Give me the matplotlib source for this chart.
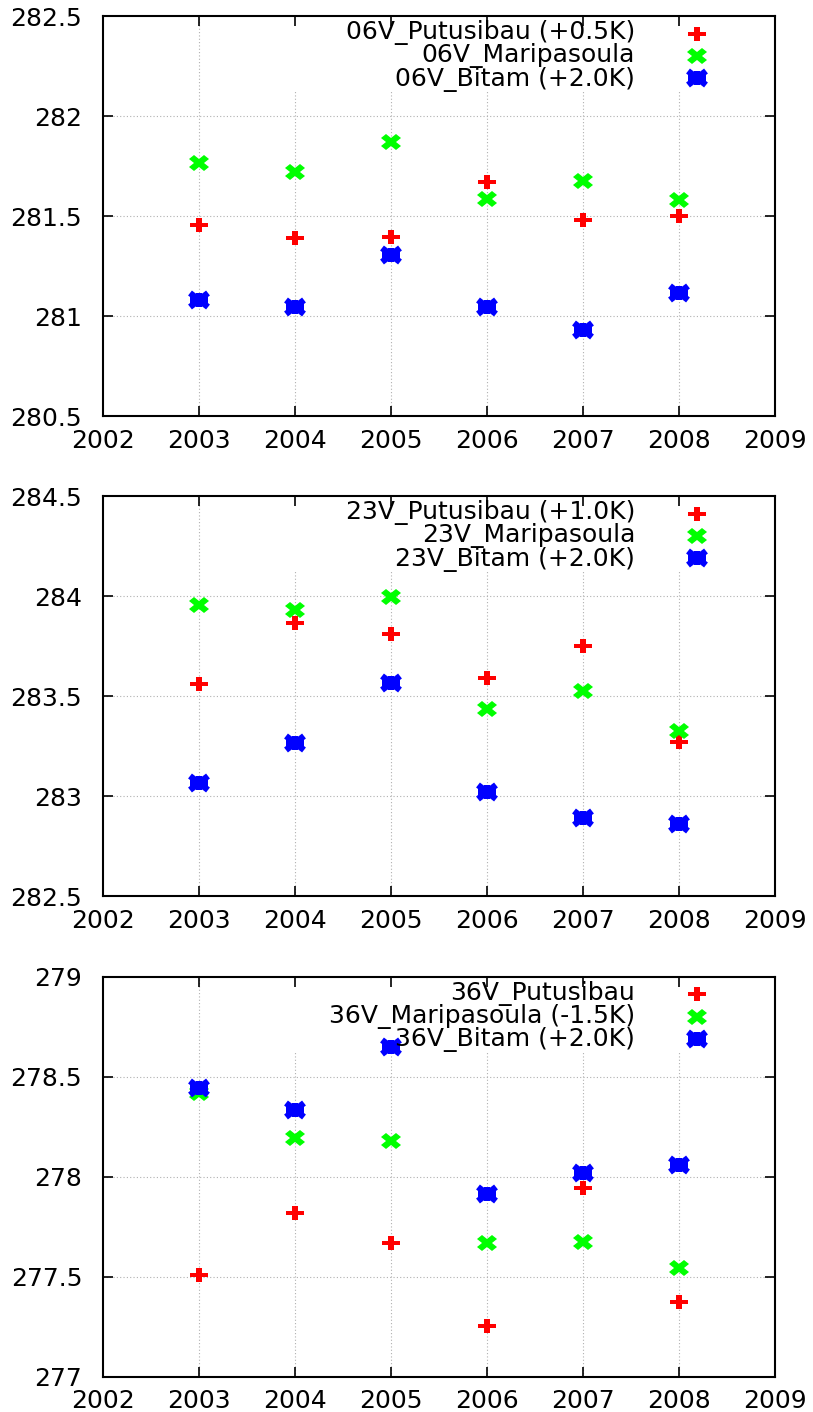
# 3 channel yearly mean Tb plot (gnuplot style)

import matplotlib
matplotlib.use("Agg")
import matplotlib.pyplot as plt
from matplotlib.markers import MarkerStyle
from matplotlib.transforms import Affine2D
from matplotlib.ticker import FuncFormatter

years = [2003, 2004, 2005, 2006, 2007, 2008]

# 06V
putu_06 = [281.455, 281.39, 281.395, 281.67, 281.48, 281.50]
mari_06 = [281.765, 281.72, 281.87, 281.585, 281.675, 281.58]
bita_06 = [281.08, 281.045, 281.305, 281.045, 280.93, 281.115]
# 23V
putu_23 = [283.56, 283.865, 283.81, 283.59, 283.75, 283.27]
mari_23 = [283.955, 283.93, 283.995, 283.435, 283.525, 283.325]
bita_23 = [283.065, 283.265, 283.565, 283.02, 282.89, 282.86]
# 36V
putu_36 = [277.51, 277.82, 277.67, 277.255, 277.945, 277.375]
mari_36 = [278.42, 278.195, 278.18, 277.665, 277.675, 277.545]
bita_36 = [278.445, 278.335, 278.65, 277.91, 278.02, 278.06]

labels_06 = ["06V_Putusibau (+0.5K)", "06V_Maripasoula", "06V_Bitam (+2.0K)"]
labels_23 = ["23V_Putusibau (+1.0K)", "23V_Maripasoula", "23V_Bitam (+2.0K)"]
labels_36 = ["36V_Putusibau", "36V_Maripasoula (-1.5K)", "36V_Bitam (+2.0K)"]

ylims = [(280.5, 282.5), (282.5, 284.5), (277, 279)]
xticks = list(range(2002, 2010))

plt.rcParams['font.family'] = ['DejaVu Sans']
plt.rcParams['font.size'] = 18

# 横に少し伸びたマーカー
stretch = Affine2D().scale(1.3, 1.0)
m_plus = MarkerStyle('P', transform=stretch)
m_cross = MarkerStyle('X', transform=stretch)
l_plus = MarkerStyle('+', transform=stretch)
l_cross = MarkerStyle('x', transform=stretch)

RED = '#ff0000'
GREEN = '#00ff00'
BLUE = '#0000ff'


def draw_point(ax, x, y, kind, **kw):
    if kind == 0:
        ax.plot(x, y, linestyle='none', marker=m_plus, ms=10, color=RED,
                markeredgewidth=0, **kw)
    elif kind == 1:
        ax.plot(x, y, linestyle='none', marker=m_cross, ms=11, color=GREEN,
                markeredgewidth=0, **kw)
    else:
        ax.plot(x, y, linestyle='none', marker=l_plus, ms=10, color=BLUE,
                markeredgewidth=4.5, **kw)
        ax.plot(x, y, linestyle='none', marker=l_cross, ms=10, color=BLUE,
                markeredgewidth=4.5, **kw)


fig = plt.figure(figsize=(8.13, 14.12), dpi=100)

left = 103 / 813
width = 672 / 813
height = 400 / 1412
bottoms = [1 - 416 / 1412, 1 - 896 / 1412, 1 - 1376.5 / 1412]

panels = [
    (putu_06, mari_06, bita_06, labels_06),
    (putu_23, mari_23, bita_23, labels_23),
    (putu_36, mari_36, bita_36, labels_36),
]

key_left = 2003.5     # 凡例の下はグリッドを消す
key_bottom = 0.815

for n, (red, green, blue, labels) in enumerate(panels):
    ax = fig.add_axes([left, bottoms[n], width, height])
    lo, hi = ylims[n]
    ax.set_xlim(2002, 2009)
    ax.set_ylim(lo, hi)
    ax.set_xticks(xticks)
    yt = [lo + 0.5 * i for i in range(5)]
    ax.set_yticks(yt)
    ax.yaxis.set_major_formatter(FuncFormatter(lambda v, p: '{:g}'.format(v)))

    # grid (dotted)
    for x in xticks[1:-1]:
        ymax = key_bottom if x > key_left else 1.0
        ax.axvline(x, ymin=0, ymax=ymax, color='#b0b0b0', linestyle=(0, (1, 2)),
                   linewidth=0.8, zorder=1)
    for y in yt[1:-1]:
        ax.axhline(y, color='#b0b0b0', linestyle=(0, (1, 2)), linewidth=0.8, zorder=1)

    ax.tick_params(direction='in', top=True, right=True, length=7, width=1.2)
    ax.tick_params(axis='y', pad=15)
    ax.tick_params(axis='x', pad=9)
    for s in ax.spines.values():
        s.set_linewidth(1.5)

    draw_point(ax, years, red, 0, zorder=3)
    draw_point(ax, years, green, 1, zorder=3)
    draw_point(ax, years, blue, 2, zorder=3)

    # 凡例 (右寄せの3行テキスト)
    ax.text(0.792, 0.90, "\n".join(labels), transform=ax.transAxes,
            ha='right', va='center', multialignment='right',
            linespacing=0.92, fontsize=18, zorder=4)
    rows = [0.956, 0.90, 0.844]
    for k in range(3):
        draw_point(ax, [0.884], [rows[k]], k, transform=ax.transAxes,
                   clip_on=False, zorder=4)

fig.savefig("out.png", dpi=100)
